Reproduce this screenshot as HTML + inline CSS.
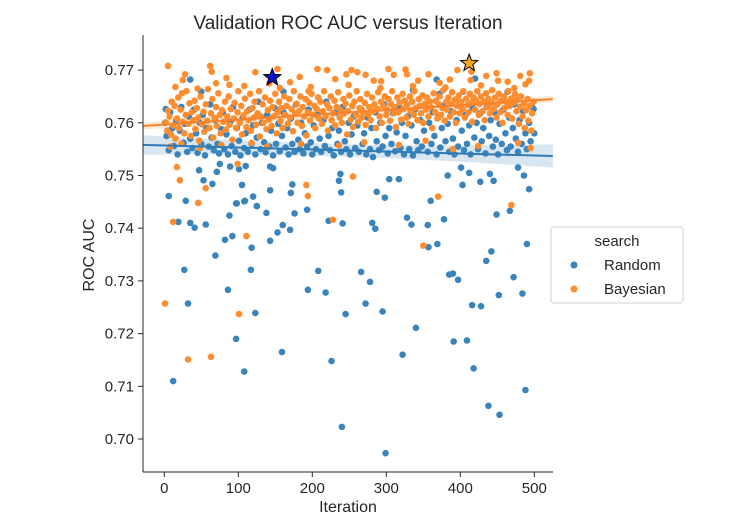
<!DOCTYPE html>
<html><head><meta charset="utf-8"><style>
html,body{margin:0;padding:0;background:#fff;}
svg{display:block;font-family:"Liberation Sans","DejaVu Sans",sans-serif;}
</style></head><body>
<svg id="chart" width="749" height="522" viewBox="0 0 749 522">
<text x="348" y="29" text-anchor="middle" font-size="19" fill="#262626">Validation ROC AUC versus Iteration</text>
<g id="bands"></g>
<g id="points"></g>
<g id="lines"></g>
<g id="axes"></g>
<text x="348" y="512" text-anchor="middle" font-size="16" fill="#262626">Iteration</text>
<text transform="translate(94,255) rotate(-90)" text-anchor="middle" font-size="16" fill="#262626">ROC AUC</text>
<g>
<rect x="551" y="227" width="132" height="76" rx="3" fill="#fff" stroke="#d0d0d0"/>
<text x="617" y="246" text-anchor="middle" font-size="15" fill="#262626">search</text>
<circle cx="574" cy="265" r="3.5" fill="#3a83bb"/>
<text x="604" y="270" font-size="15" fill="#262626">Random</text>
<circle cx="574" cy="289" r="3.5" fill="#fe8d2f"/>
<text x="604" y="294" font-size="15" fill="#262626">Bayesian</text>
</g>
</svg>
<script>
const xTicks=[0,100,200,300,400,500];
const yTicks=[0.70,0.71,0.72,0.73,0.74,0.75,0.76,0.77];
const randomIter=[12,32,27,86,97,108,123,69,82,92,118,117,143,153,160,170,176,193,159,194,208,218,226,240,245,241,222,266,278,272,295,299,281,285,322,340,328,334,356,357,369,378,385,390,397,391,409,416,428,418,435,442,452,438,453,449,467,472,484,490,488,19,35,41,56,88,97,108,125,138,
6,29,47,53,65,71,75,89,101,110,105,98,109,120,125,143,143,147,173,171,236,238,239,287,298,304,317,383,401,412,403,427,440,445,478,486,493,360,
35,50,161,336,368,372,404,420,464,499,2,
1,3,6,8,11,13,16,18,21,23,26,28,31,33,35,38,40,43,45,48,50,52,55,57,60,62,64,67,69,72,74,77,79,81,84,86,89,91,93,96,98,101,103,106,108,110,113,115,118,120,123,125,127,130,132,135,137,139,142,144,147,149,151,154,156,159,161,164,166,168,171,173,176,178,181,183,185,188,190,193,195,198,200,202,205,207,210,212,215,217,219,222,224,227,229,232,234,236,239,241,244,246,249,251,253,256,258,261,263,266,268,270,273,275,278,280,282,285,287,290,292,295,297,299,302,304,307,309,312,314,317,319,321,324,326,329,331,334,336,339,341,343,346,348,351,353,356,358,361,363,365,368,370,373,375,378,380,383,385,387,390,392,395,397,400,402,405,407,409,412,414,417,419,422,424,427,429,431,434,436,439,441,444,446,448,451,453,456,458,461,463,466,468,471,473,475,478,480,483,485,488,490,493,495,498,500];
const randomAuc=[.7110,.7257,.7321,.7283,.7190,.7128,.7239,.7348,.7378,.7385,.7363,.7321,.7376,.7392,.7406,.7397,.7428,.7435,.7165,.7283,.7319,.7278,.7148,.7023,.7237,.7409,.7414,.7317,.7298,.7257,.7242,.6973,.7410,.7399,.7160,.7211,.7420,.7407,.7406,.7364,.7370,.7417,.7312,.7314,.7302,.7185,.7187,.7254,.7252,.7134,.7338,.7356,.7273,.7063,.7046,.7426,.7433,.7307,.7276,.7370,.7093,.7412,.7410,.7401,.7407,.7424,.7447,.7451,.7442,.7429,
.7461,.7452,.7510,.7491,.7484,.7507,.7522,.7517,.7512,.7518,.7482,.7447,.7452,.7460,.7442,.7472,.7517,.7514,.7483,.7467,.7490,.7503,.7468,.7469,.7458,.7493,.7493,.7500,.7515,.7505,.7482,.7488,.7503,.7490,.7515,.7500,.7474,.7452,
.7682,.7659,.7659,.7662,.7682,.7655,.7659,.7684,.7659,.7626,.7626,
.7600,.7575,.7548,.7620,.7590,.7556,.7605,.7540,.7585,.7630,.7562,.7598,.7545,.7612,.7570,.7552,.7625,.7580,.7543,.7600,.7560,.7615,.7538,.7590,.7555,.7635,.7572,.7548,.7605,.7560,.7542,.7588,.7620,.7550,.7578,.7540,.7602,.7556,.7630,.7545,.7590,.7566,.7538,.7610,.7552,.7580,.7545,.7625,.7560,.7595,.7540,.7572,.7640,.7550,.7600,.7563,.7544,.7615,.7555,.7585,.7538,.7628,.7560,.7598,.7546,.7575,.7620,.7553,.7590,.7540,.7608,.7560,.7545,.7635,.7568,.7550,.7600,.7542,.7580,.7555,.7625,.7563,.7540,.7595,.7550,.7615,.7570,.7545,.7605,.7556,.7640,.7575,.7548,.7590,.7538,.7620,.7560,.7585,.7545,.7630,.7565,.7550,.7600,.7540,.7578,.7612,.7552,.7595,.7545,.7625,.7560,.7580,.7540,.7610,.7550,.7590,.7535,.7620,.7565,.7548,.7600,.7555,.7635,.7575,.7542,.7590,.7560,.7618,.7546,.7582,.7630,.7552,.7600,.7540,.7575,.7612,.7550,.7595,.7538,.7625,.7565,.7548,.7605,.7555,.7585,.7630,.7545,.7600,.7560,.7620,.7575,.7540,.7610,.7553,.7590,.7633,.7565,.7598,.7545,.7622,.7570,.7540,.7605,.7555,.7638,.7585,.7548,.7615,.7560,.7595,.7540,.7628,.7572,.7600,.7550,.7618,.7565,.7590,.7542,.7630,.7575,.7605,.7555,.7620,.7568,.7540,.7598,.7560,.7625,.7580,.7548,.7610,.7555,.7590,.7635,.7570,.7545,.7605,.7560,.7622,.7580,.7550,.7600,.7565,.7628,.7580];
const bayesIter=[1,12,32,63,101,111,46,228,350,469,
17,21,46,56,99,192,194,255,370,
5,25,28,62,64,84,70,123,153,142,170,183,195,207,220,231,246,253,261,272,283,293,303,310,326,328,343,357,386,396,415,435,449,464,481,494,493,451,372,88,414,
8,23,48,77,118,139,185,236,270,317,353,390,424,478,495,15,45,108,156,198,249,292,336,380,428,473,488,
2,4,5,7,9,10,12,14,15,17,19,20,22,24,25,27,29,30,32,34,36,37,39,41,42,44,46,47,49,51,53,54,56,58,59,61,63,65,66,68,70,71,73,75,76,78,80,82,83,85,87,88,90,92,94,95,97,99,100,102,104,105,107,109,111,112,114,116,117,119,121,122,124,126,128,129,131,133,134,136,138,140,141,143,145,146,148,150,152,153,155,157,158,160,162,163,165,167,169,170,172,174,175,177,179,180,182,184,186,187,189,191,192,194,196,197,199,201,203,204,206,208,209,211,213,214,216,218,220,221,223,225,226,228,230,231,233,235,237,238,240,242,243,245,247,248,250,252,254,255,257,259,260,262,264,265,267,269,271,272,274,276,277,279,281,283,284,286,288,289,291,293,294,296,298,300,301,303,305,306,308,310,311,313,315,316,318,320,322,323,325,327,328,330,332,333,335,337,338,340,342,344,345,347,349,350,352,354,355,357,359,360,362,364,366,367,369,371,372,374,376,377,379,381,382,384,386,388,389,391,393,394,396,398,399,401,403,404,406,408,410,411,413,415,416,418,420,421,423,425,426,428,430,432,433,435,437,438,440,442,443,445,447,449,450,452,454,455,457,459,460,462,464,465,467,469,470,472,474,476,477,479,481,482,484,486,487,489,491,492,494,496,497,499];
const bayesAuc=[.7257,.7412,.7151,.7156,.7237,.7385,.7448,.7416,.7367,.7444,
.7516,.7491,.7448,.7476,.7522,.7482,.7461,.7498,.7460,
.7708,.7681,.7692,.7708,.7697,.7685,.7675,.7696,.7702,.7675,.7677,.7687,.7660,.7702,.7700,.7683,.7692,.7700,.7696,.7691,.7680,.7679,.7702,.7691,.7701,.7692,.7680,.7692,.7682,.7700,.7697,.7689,.7694,.7678,.7689,.7694,.7680,.7680,.7676,.7672,.7681,
.7555,.7560,.7552,.7558,.7562,.7555,.7560,.7557,.7563,.7558,.7566,.7550,.7556,.7562,.7552,.7668,.7665,.7670,.7666,.7668,.7672,.7666,.7670,.7667,.7671,.7666,.7673,
.7601,.7585,.7623,.7612,.7578,.7640,.7595,.7632,.7570,.7608,.7648,.7590,.7625,.7656,.7602,.7580,.7615,.7660,.7598,.7637,.7575,.7620,.7605,.7642,.7588,.7628,.7610,.7566,.7650,.7597,.7621,.7583,.7635,.7604,.7664,.7590,.7618,.7645,.7572,.7609,.7630,.7594,.7656,.7615,.7580,.7624,.7602,.7640,.7587,.7612,.7650,.7596,.7626,.7568,.7608,.7638,.7590,.7620,.7660,.7600,.7632,.7578,.7614,.7646,.7592,.7622,.7605,.7655,.7585,.7628,.7610,.7640,.7596,.7618,.7660,.7574,.7612,.7635,.7600,.7648,.7588,.7624,.7606,.7642,.7594,.7630,.7612,.7655,.7580,.7620,.7640,.7603,.7628,.7590,.7650,.7615,.7632,.7598,.7645,.7610,.7626,.7584,.7660,.7618,.7636,.7600,.7622,.7650,.7594,.7630,.7612,.7645,.7576,.7620,.7638,.7604,.7655,.7615,.7632,.7590,.7626,.7648,.7608,.7640,.7598,.7622,.7660,.7612,.7635,.7585,.7628,.7650,.7605,.7618,.7642,.7595,.7630,.7658,.7610,.7625,.7600,.7645,.7618,.7636,.7578,.7622,.7652,.7606,.7632,.7592,.7640,.7615,.7660,.7602,.7628,.7645,.7610,.7620,.7638,.7596,.7655,.7616,.7630,.7605,.7648,.7622,.7635,.7590,.7626,.7658,.7612,.7640,.7600,.7632,.7650,.7615,.7625,.7645,.7604,.7636,.7660,.7618,.7630,.7592,.7648,.7620,.7638,.7606,.7655,.7626,.7642,.7610,.7634,.7598,.7650,.7622,.7640,.7615,.7660,.7628,.7605,.7645,.7632,.7618,.7652,.7600,.7636,.7625,.7648,.7612,.7640,.7630,.7590,.7656,.7620,.7642,.7608,.7635,.7650,.7615,.7628,.7662,.7604,.7640,.7625,.7648,.7612,.7636,.7658,.7620,.7644,.7600,.7632,.7652,.7618,.7640,.7626,.7660,.7610,.7646,.7634,.7620,.7655,.7638,.7602,.7648,.7625,.7642,.7660,.7615,.7636,.7650,.7622,.7640,.7605,.7656,.7630,.7645,.7618,.7638,.7662,.7626,.7648,.7610,.7635,.7655,.7620,.7642,.7600,.7650,.7628,.7640,.7615,.7660,.7632,.7646,.7608,.7638,.7655,.7622,.7644,.7598,.7630,.7650,.7612,.7636,.7590,.7624,.7645,.7604,.7632,.7585,.7618,.7640];
const bestRandom=[146,0.7686];
const bestBayes=[412,0.7713];
const fitX=[-29,525];
const randomFit=[0.7558,0.7537];
const bayesFit=[0.7594,0.7645];
const randomCI=[0.0012,0.0022];
const bayesCI=[0.0008,0.0006];

const NS='http://www.w3.org/2000/svg';
const X0=143,X1=553,Y0=35,Y1=472;
function xs(v){return 164.3+0.74*v;}
function ys(v){return 439-(v-0.70)*5270;}
function mk(tag,attrs,parent){const e=document.createElementNS(NS,tag);for(const k in attrs)e.setAttribute(k,attrs[k]);parent.appendChild(e);return e;}

const axes=document.getElementById('axes');
let l=mk('line',{x1:X0,y1:Y0,x2:X0,y2:Y1,stroke:'#262626','stroke-width':1},axes);


l=mk('line',{x1:X0,y1:Y1,x2:X1,y2:Y1,stroke:'#262626','stroke-width':1},axes);


xTicks.forEach(t=>{
  const tk=mk('line',{x1:xs(t),y1:Y1,x2:xs(t),y2:Y1+5,stroke:'#262626'},axes);
  
  
  const tx=mk('text',{x:xs(t),y:Y1+21,'text-anchor':'middle','font-size':15,fill:'#262626'},axes);
  tx.textContent=t;
  
  
});
yTicks.forEach(t=>{
  const tk=mk('line',{x1:X0-5,y1:ys(t),x2:X0,y2:ys(t),stroke:'#262626'},axes);
  
  
  const tx=mk('text',{x:X0-9,y:ys(t)+5,'text-anchor':'end','font-size':15,fill:'#262626'},axes);
  tx.textContent=t.toFixed(2);
  
  
});

function band(fit,ci,color,name){
  const n=20,up=[],dn=[];
  for(let i=0;i<=n;i++){
    const f=i/n,x=fitX[0]+(fitX[1]-fitX[0])*f,y=fit[0]+(fit[1]-fit[0])*f;
    const w=ci[0]+(ci[1]-ci[0])*Math.pow(Math.abs(f-0.45)/0.55,2);
    up.push(xs(x)+','+ys(y+w));dn.unshift(xs(x)+','+ys(y-w));
  }
  const p=mk('polygon',{points:up.concat(dn).join(' '),fill:color,'fill-opacity':0.18},document.getElementById('bands'));
  
  
}
band(randomFit,randomCI,'#1f77b4','random-ci-band');
band(bayesFit,bayesCI,'#ff7f0e','bayesian-ci-band');

const pts=document.getElementById('points');
randomIter.forEach((it,i)=>{
  const c=mk('circle',{cx:xs(it),cy:ys(randomAuc[i]),r:3.3,fill:'#3a83bb'},pts);
  
  
});
bayesIter.forEach((it,i)=>{
  const c=mk('circle',{cx:xs(it),cy:ys(bayesAuc[i]),r:3.3,fill:'#fe8d2f'},pts);
  
  
});

const lines=document.getElementById('lines');
l=mk('line',{x1:xs(fitX[0]),y1:ys(randomFit[0]),x2:xs(fitX[1]),y2:ys(randomFit[1]),stroke:'#2f7ab5','stroke-width':2},lines);


l=mk('line',{x1:xs(fitX[0]),y1:ys(bayesFit[0]),x2:xs(fitX[1]),y2:ys(bayesFit[1]),stroke:'#f9822a','stroke-width':2},lines);



function star(cx,cy,r,fill,name){
  const p=[];
  for(let i=0;i<10;i++){const a=-Math.PI/2+i*Math.PI/5,rr=i%2?r*0.42:r;p.push((cx+rr*Math.cos(a)).toFixed(1)+','+(cy+rr*Math.sin(a)).toFixed(1));}
  const s=mk('polygon',{points:p.join(' '),fill:fill,stroke:'#000','stroke-width':1},lines);
  
  
}
star(xs(bestRandom[0]),ys(bestRandom[1]),9,'#1010d0','best-random-star');
star(xs(bestBayes[0]),ys(bestBayes[1]),9,'#f5a623','best-bayesian-star');
</script>
</body></html>
